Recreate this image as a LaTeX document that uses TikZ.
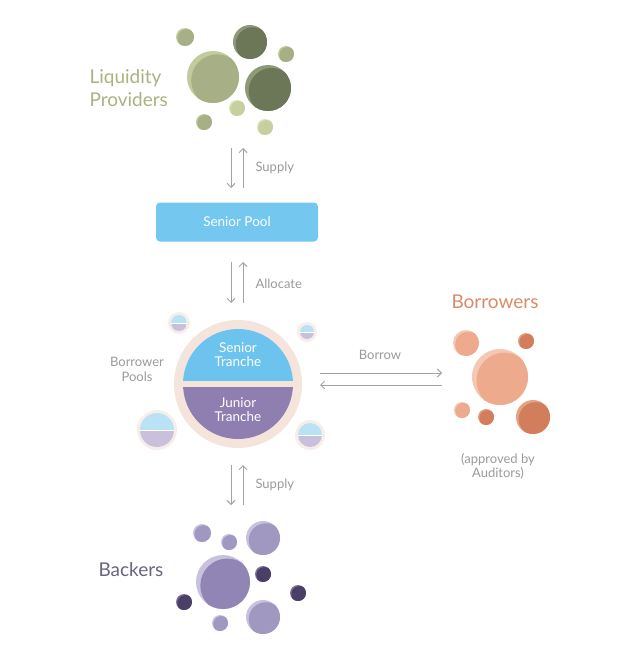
\documentclass[tikz,border=0pt]{standalone}
\usepackage{fontspec}
\setmainfont{Lato}
\usepackage{tikz}
\usetikzlibrary{arrows.meta}

\definecolor{lpgreen}{HTML}{A9B381}
\definecolor{gLight}{HTML}{C2CB9B}
\definecolor{gBody}{HTML}{A6AF85}
\definecolor{gDarkL}{HTML}{8E9977}
\definecolor{gDark}{HTML}{6C7757}
\definecolor{gPaleL}{HTML}{DCE4B8}
\definecolor{gPale}{HTML}{C6D09E}
\definecolor{brOrange}{HTML}{D98A6A}
\definecolor{oLight}{HTML}{F4C8B3}
\definecolor{oBody}{HTML}{EEAA8D}
\definecolor{oDarkL}{HTML}{E5A283}
\definecolor{oDark}{HTML}{D27D5B}
\definecolor{bkPurple}{HTML}{6A6480}
\definecolor{pLight}{HTML}{C8C2DE}
\definecolor{pBody}{HTML}{A198C2}
\definecolor{pBig}{HTML}{9085B5}
\definecolor{pDarkL}{HTML}{7F7399}
\definecolor{pDark}{HTML}{4A3F66}
\definecolor{poolblue}{HTML}{74C7EF}
\definecolor{srblue}{HTML}{6CC4EE}
\definecolor{jrpurple}{HTML}{8E7FB0}
\definecolor{ring}{HTML}{F5E4DB}
\definecolor{halo}{HTML}{F8EEE9}
\definecolor{mini-blue}{HTML}{B9E2F5}
\definecolor{mini-purple}{HTML}{C9C1DC}
\definecolor{arrowgray}{HTML}{A3A3A3}
\definecolor{labelgray}{HTML}{9A9A9A}

\tikzset{
  flow/.style={draw=arrowgray, line width=0.9pt, -{Straight Barb[length=4pt,width=8pt]}},
  lbl/.style={text=labelgray, font=\fontsize{13}{15}\selectfont, align=center},
  title/.style={font=\fontsize{19}{23}\selectfont, align=left},
  tranche/.style={text=white, font=\fontsize{13.5}{14}\selectfont, align=center},
  poolbox/.style={fill=poolblue, rounded corners=4pt, minimum width=162pt,
    minimum height=39pt, text=white, font=\fontsize{13.5}{15}\selectfont},
}

% bubble: x, y, radius, crescent colour, body colour
\newcommand{\bubble}[5]{%
  \fill[#4] (#1,#2) circle (#3pt);
  \begin{scope}
    \clip (#1,#2) circle (#3pt);
    \fill[#5] (#1+0.16*#3,#2+0.13*#3) circle (#3pt);
  \end{scope}}

% small borrower pool: x, y, radius
\newcommand{\minipool}[3]{%
  \fill[halo] (#1,#2) circle (#3pt+3pt);
  \begin{scope}
    \clip (#1,#2) circle (#3pt);
    \fill[mini-blue] (#1-#3,#2-#3) rectangle (#1+#3,#2);
    \fill[mini-purple] (#1-#3,#2) rectangle (#1+#3,#2+#3);
    \draw[white, line width=1pt] (#1-#3,#2) -- (#1+#3,#2);
  \end{scope}}

\begin{document}
\begin{tikzpicture}[x=1pt, y=-1pt]
  \useasboundingbox (0,0) rectangle (620,650);

  % liquidity providers
  \bubble{185}{37}{9}{gLight}{gBody}
  \bubble{213}{77}{26}{gLight}{gBody}
  \bubble{250}{42}{17}{gDarkL}{gDark}
  \bubble{268}{88}{23}{gDarkL}{gDark}
  \bubble{286}{54}{8}{gLight}{gBody}
  \bubble{237}{108}{8}{gPaleL}{gPale}
  \bubble{204}{122}{8}{gLight}{gBody}
  \bubble{265}{127}{8}{gPaleL}{gPale}
  \node[title, text=lpgreen, anchor=west] (lp) at (86,88) {Liquidity\\Providers};

  % senior pool
  \node[poolbox] (pool) at (237,222) {Senior Pool};

  % borrower pools
  \fill[ring] (238,384) circle (64pt);
  \begin{scope}
    \clip (238,384) circle (55pt);
    \fill[srblue] (170,320) rectangle (310,381);
    \fill[jrpurple] (170,387) rectangle (310,450);
  \end{scope}
  \node[tranche] (senior) at (238,355) {Senior\\Tranche};
  \node[tranche] (junior) at (238,410) {Junior\\Tranche};
  \minipool{179}{323}{8}
  \minipool{307}{332}{7}
  \minipool{157}{430}{17}
  \minipool{310}{435}{12}
  \node[lbl] (bpools) at (137,369) {Borrower\\Pools};

  % borrowers
  \bubble{466}{343}{13}{oLight}{oBody}
  \bubble{526}{341}{8}{oDarkL}{oDark}
  \bubble{500}{377}{28}{oLight}{oBody}
  \bubble{462}{410}{8}{oLight}{oBody}
  \bubble{486}{417}{8}{oDarkL}{oDark}
  \bubble{533}{417}{17}{oDarkL}{oDark}
  \node[title, text=brOrange] (borrowers) at (495,302) {Borrowers};
  \node[lbl, font=\fontsize{13}{14}\selectfont] (auditors) at (498,466) {(approved by\\Auditors)};

  % backers
  \bubble{202}{533}{9}{pLight}{pBody}
  \bubble{229}{542}{8}{pLight}{pBody}
  \bubble{263}{538}{17}{pLight}{pBody}
  \bubble{223}{582}{27}{pLight}{pBig}
  \bubble{263}{574}{8}{pDarkL}{pDark}
  \bubble{184}{602}{8}{pDarkL}{pDark}
  \bubble{298}{593}{8}{pDarkL}{pDark}
  \bubble{263}{617}{17}{pLight}{pBody}
  \bubble{220}{623}{8}{pLight}{pBody}
  \node[title, text=bkPurple, anchor=west] (backers) at (95,570) {Backers};

  % flows
  \coordinate (s1a) at (231,148);
  \coordinate (s1b) at (231,188);
  \coordinate (s1c) at (243,188);
  \coordinate (s1d) at (243,148);
  \draw[flow] (s1a) -- (s1b);
  \draw[flow] (s1c) -- (s1d);
  \node[lbl, anchor=west] (supplytop) at (252,168) {Supply};

  \coordinate (al1) at (231,262);
  \coordinate (al2) at (231,303);
  \coordinate (al3) at (243,303);
  \coordinate (al4) at (243,262);
  \draw[flow] (al1) -- (al2);
  \draw[flow] (al3) -- (al4);
  \node[lbl, anchor=west] (allocate) at (252,284) {Allocate};

  \coordinate (b1) at (320,373);
  \coordinate (b2) at (442,373);
  \coordinate (b3) at (442,385);
  \coordinate (b4) at (320,385);
  \draw[flow] (b1) -- (b2);
  \draw[flow] (b3) -- (b4);
  \node[lbl] (borrow) at (380,355) {Borrow};

  \coordinate (s2a) at (231,465);
  \coordinate (s2b) at (231,505);
  \coordinate (s2c) at (243,505);
  \coordinate (s2d) at (243,465);
  \draw[flow] (s2a) -- (s2b);
  \draw[flow] (s2c) -- (s2d);
  \node[lbl, anchor=west] (supplybot) at (252,485) {Supply};

\end{tikzpicture}
\end{document}
